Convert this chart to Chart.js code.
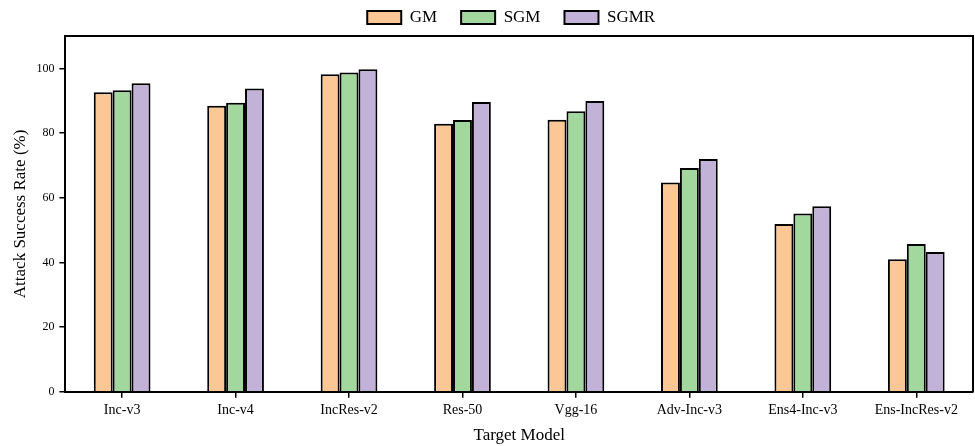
<!DOCTYPE html>
<html>
<head>
<meta charset="utf-8">
<script src="https://cdn.jsdelivr.net/npm/chart.js@4.4.1/dist/chart.umd.min.js"></script>
<style>
  html, body { margin: 0; padding: 0; background: #fff; }
  #wrap { width: 975px; height: 446px; position: relative; }
</style>
</head>
<body>
<div id="wrap"><canvas id="c" width="975" height="446"></canvas></div>
<script>
// Target models on the x axis
const categories = ['Inc-v3', 'Inc-v4', 'IncRes-v2', 'Res-50', 'Vgg-16', 'Adv-Inc-v3', 'Ens4-Inc-v3', 'Ens-IncRes-v2'];

// Attack success rates (%) per method
const gmValues   = [92.6, 88.4, 98.2, 82.9, 84.1, 64.7, 51.9, 41.0];
const sgmValues  = [93.2, 89.4, 98.7, 84.0, 86.7, 69.2, 55.1, 45.7];
const sgmrValues = [95.4, 93.8, 99.7, 89.6, 89.9, 72.0, 57.4, 43.2];

const yTicks = [0, 20, 40, 60, 80, 100];

const serif = '"Liberation Serif", "Times New Roman", serif';

// Closes the plot frame on the top and right sides
const framePlugin = {
  id: 'frame',
  afterDraw(chart) {
    const { ctx, chartArea: a } = chart;
    ctx.save();
    ctx.strokeStyle = '#000';
    ctx.lineWidth = 2;
    ctx.beginPath();
    ctx.moveTo(a.left, a.top);
    ctx.lineTo(a.right, a.top);
    ctx.lineTo(a.right, a.bottom);
    ctx.stroke();
    ctx.restore();
  }
};

// Place the legend row roughly over the middle of the plot area
const legendShift = {
  id: 'legendShift',
  afterLayout(chart) {
    const lg = chart.legend;
    if (!lg) return;
    const a = chart.chartArea;
    const dx = (a.left + a.right) / 2 - (lg.left + lg.right) / 2 - 8;
    lg.left += dx;
    lg.right += dx;
    if (lg.legendHitBoxes) lg.legendHitBoxes.forEach(b => { b.left += dx; });
  }
};

new Chart(document.getElementById('c'), {
  type: 'bar',
  data: {
    labels: categories,
    datasets: [
      { label: 'GM',   data: gmValues,   backgroundColor: '#fbc895', borderColor: '#000', borderWidth: 2 },
      { label: 'SGM',  data: sgmValues,  backgroundColor: '#a2d79e', borderColor: '#000', borderWidth: 2 },
      { label: 'SGMR', data: sgmrValues, backgroundColor: '#c3b2d7', borderColor: '#000', borderWidth: 2 }
    ]
  },
  options: {
    responsive: false,
    animation: false,
    devicePixelRatio: 1,
    layout: { padding: { left: 10, right: 2, top: -15, bottom: 0 } },
    datasets: { bar: { categoryPercentage: 0.5, barPercentage: 1.0 } },
    plugins: {
      tooltip: { enabled: false },
      legend: {
        position: 'top',
        labels: {
          color: '#000',
          font: { family: serif, size: 17 },
          boxWidth: 34,
          boxHeight: 13,
          padding: 24
        }
      }
    },
    scales: {
      x: {
        offset: true,
        grid: { display: true, drawOnChartArea: false, offset: false, color: '#000', lineWidth: 1.5, tickLength: 6 },
        border: { display: true, color: '#000', width: 2 },
        ticks: { color: '#000', font: { family: serif, size: 14 }, padding: 4, maxRotation: 0, autoSkip: false },
        title: { display: true, text: 'Target Model', color: '#000', font: { family: serif, size: 17 }, padding: { top: 3, bottom: 0 } }
      },
      y: {
        min: 0,
        max: 110,
        afterBuildTicks(axis) { axis.ticks = yTicks.map(v => ({ value: v })); },
        grid: { display: true, drawOnChartArea: false, color: '#000', lineWidth: 1.5, tickLength: 6 },
        border: { display: true, color: '#000', width: 2 },
        ticks: { color: '#000', font: { family: serif, size: 12 }, padding: 5 },
        title: { display: true, text: 'Attack Success Rate (%)', color: '#000', font: { family: serif, size: 17 }, padding: { top: 0, bottom: 1 } }
      }
    }
  },
  plugins: [framePlugin, legendShift]
});
</script>
</body>
</html>
